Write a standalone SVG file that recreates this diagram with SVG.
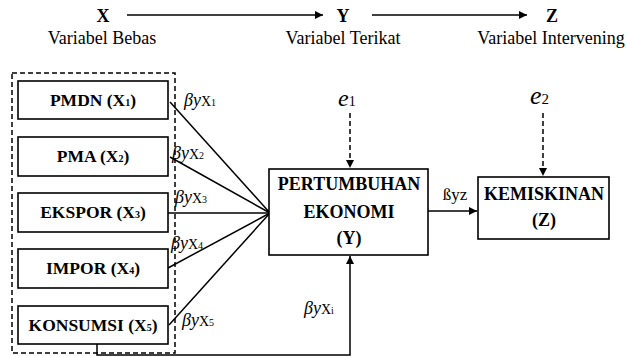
<svg xmlns="http://www.w3.org/2000/svg" width="627" height="357" viewBox="0 0 627 357">
<style>
text{font-family:'Liberation Serif','Tinos','DejaVu Serif',serif;fill:#000}
.b{font-weight:bold}
.box{fill:#fff;stroke:#000;stroke-width:1.6}
.ln{fill:none;stroke:#000;stroke-width:1.5}
.dash{fill:none;stroke:#000;stroke-width:1.5;stroke-dasharray:5,3}
.lbl{font-size:18px;font-style:italic}
.sx{font-style:normal;font-size:14px}
.sb{font-size:10px;font-style:normal}
</style>
<defs>
<marker id="ah" viewBox="0 0 10 10" refX="10" refY="5" markerWidth="8" markerHeight="8" markerUnits="userSpaceOnUse" orient="auto">
<path d="M0,0 L10,5 L0,10 z" fill="#000"/>
</marker>
</defs>
<g id="legend">
<text x="103" y="22" class="b" font-size="18" text-anchor="middle">X</text>
<text x="102" y="44" font-size="18" text-anchor="middle">Variabel Bebas</text>
<text x="343" y="22" class="b" font-size="18" text-anchor="middle">Y</text>
<text x="343" y="44" font-size="18" text-anchor="middle">Variabel Terikat</text>
<text x="552" y="22" class="b" font-size="18" text-anchor="middle">Z</text>
<text x="551" y="44" font-size="18" text-anchor="middle">Variabel Intervening</text>
<line class="ln" x1="127" y1="15" x2="323" y2="15" marker-end="url(#ah)"/>
<line class="ln" x1="372" y1="15" x2="527" y2="15" marker-end="url(#ah)"/>
</g>
<g id="group-x">
<rect class="dash" x="12" y="73" width="163" height="280"/>
</g>
<g id="connectors">
<line class="ln" x1="170" y1="102" x2="270" y2="213"/>
<line class="ln" x1="170" y1="157" x2="270" y2="213"/>
<line class="ln" x1="168" y1="213" x2="270" y2="213"/>
<line class="ln" x1="168" y1="268" x2="270" y2="213"/>
<line class="ln" x1="169" y1="325" x2="270" y2="213"/>
<line class="ln" x1="428" y1="211" x2="477" y2="211" marker-end="url(#ah)"/>
<line class="dash" x1="350" y1="113" x2="350" y2="168" marker-end="url(#ah)"/>
<line class="dash" x1="543" y1="113" x2="543" y2="176" marker-end="url(#ah)"/>
<polyline class="ln" points="97,344 97,355 350,355 350,256" marker-end="url(#ah)"/>
</g>
<g id="labels">
<text x="184" y="106" class="lbl">βy<tspan class="sx">X</tspan><tspan class="sb">1</tspan></text>
<text x="172" y="159" class="lbl">βy<tspan class="sx">X</tspan><tspan class="sb">2</tspan></text>
<text x="175" y="203" class="lbl">βy<tspan class="sx">X</tspan><tspan class="sb">3</tspan></text>
<text x="171" y="249" class="lbl">βy<tspan class="sx">X</tspan><tspan class="sb">4</tspan></text>
<text x="182" y="326" class="lbl">βy<tspan class="sx">X</tspan><tspan class="sb">5</tspan></text>
<text x="304" y="314" class="lbl">βy<tspan class="sx">X</tspan><tspan class="sb">i</tspan></text>
<text x="455" y="200" font-size="17" text-anchor="middle">ßyz</text>
<text x="338" y="106" font-size="24" font-style="italic">e<tspan font-size="14" font-style="normal">1</tspan></text>
<text x="530" y="104" font-size="26" font-style="italic">e<tspan font-size="15" font-style="normal">2</tspan></text>
</g>
<g id="pmdn">
<rect class="box" x="18" y="81" width="150" height="38"/>
<text x="93" y="106" class="b" font-size="17.5" text-anchor="middle">PMDN (X<tspan font-size="10">1</tspan>)</text>
</g>
<g id="pma">
<rect class="box" x="18" y="137" width="150" height="39"/>
<text x="93" y="162" class="b" font-size="17.5" text-anchor="middle">PMA (X<tspan font-size="10">2</tspan>)</text>
</g>
<g id="ekspor">
<rect class="box" x="18" y="193" width="150" height="39"/>
<text x="93" y="218" class="b" font-size="17.5" text-anchor="middle">EKSPOR (X<tspan font-size="10">3</tspan>)</text>
</g>
<g id="impor">
<rect class="box" x="18" y="249" width="150" height="39"/>
<text x="93" y="274" class="b" font-size="17.5" text-anchor="middle">IMPOR (X<tspan font-size="10">4</tspan>)</text>
</g>
<g id="konsumsi">
<rect class="box" x="18" y="306" width="150" height="38"/>
<text x="93" y="331" class="b" font-size="17.5" text-anchor="middle">KONSUMSI (X<tspan font-size="10">5</tspan>)</text>
</g>
<g id="pertumbuhan">
<rect class="box" x="269" y="169" width="159" height="86"/>
<text x="349" y="190" class="b" font-size="18" text-anchor="middle">PERTUMBUHAN</text>
<text x="349" y="218" class="b" font-size="18" text-anchor="middle">EKONOMI</text>
<text x="349" y="244" class="b" font-size="18" text-anchor="middle">(Y)</text>
</g>
<g id="kemiskinan">
<rect class="box" x="478" y="177" width="131" height="62"/>
<text x="544" y="200" class="b" font-size="18" text-anchor="middle">KEMISKINAN</text>
<text x="544" y="226" class="b" font-size="18" text-anchor="middle">(Z)</text>
</g>
</svg>
